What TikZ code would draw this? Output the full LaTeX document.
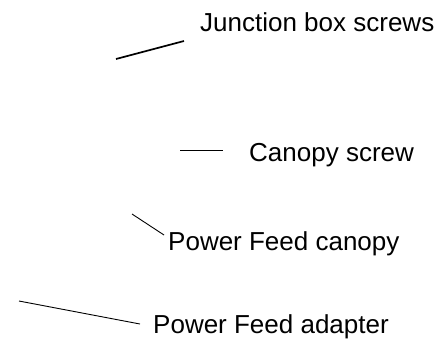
\documentclass[tikz,border=0pt]{standalone}
\usepackage{fontspec}
\setmainfont{Liberation Sans}
\usetikzlibrary{positioning}

\begin{document}
\begin{tikzpicture}[x=1pt,y=-1pt,
callout/.style={anchor=base west,inner sep=0pt,font=\fontsize{26}{31}\selectfont},
leader/.style={line width=0.9pt}]

        \useasboundingbox (0,0) rectangle (443,341);

        % callout texts
        \node [callout] (jbox) at (200,31) {Junction box screws};
        \node [callout] (cscrew) at (249,161) {Canopy screw};
        \node [callout] (pfcan) at (168,250) {Power Feed canopy};
        \node [callout] (pfadp) at (153,333) {Power Feed adapter};

        % leader lines
        \coordinate (jboxA) at (116,59);
        \coordinate (jboxB) at (184,41);
        \coordinate (cscrewA) at (180,150);
        \coordinate (cscrewB) at (223,150);
        \coordinate (pfcanA) at (132,214);
        \coordinate (pfcanB) at (164,235);
        \coordinate (pfadpA) at (19,301);
        \coordinate (pfadpB) at (140,324);

        \draw [leader, line width=1.7pt] (jboxA) -- (jboxB);
        \draw [leader] (cscrewA) -- (cscrewB);
        \draw [leader] (pfcanA) -- (pfcanB);
        \draw [leader] (pfadpA) -- (pfadpB);
    \end{tikzpicture}
\end{document}
